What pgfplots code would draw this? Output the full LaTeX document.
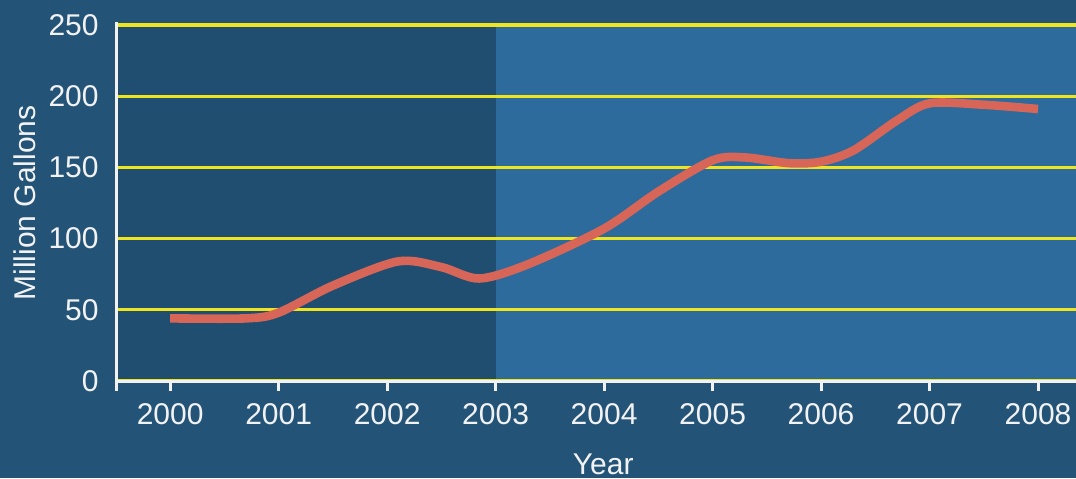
\documentclass[border=0pt]{standalone}
\usepackage{fontspec}
\setmainfont{Liberation Sans}
\usepackage{pgfplots}
\pgfplotsset{compat=1.18}
\definecolor{bgout}{RGB}{35,84,120}
\definecolor{bgleft}{RGB}{32,78,112}
\definecolor{bgright}{RGB}{44,107,155}
\definecolor{gridyel}{RGB}{238,228,32}
\definecolor{linecol}{RGB}{216,102,88}
\definecolor{txt}{RGB}{242,242,242}
\begin{document}
\begin{tikzpicture}
\fill[bgout] (-58.5pt,-48.5pt) rectangle (479.5pt,190.5pt);
% background regions
\begin{axis}[scale only axis, width=479.5pt, height=178pt,
  xmin=1999.51, xmax=2008.35, ymin=0, ymax=250, hide axis, clip=false]
  \fill[bgleft] (axis cs:1999.51,0) rectangle (axis cs:2003,250);
  \fill[bgright] (axis cs:2003,0) rectangle (axis cs:2008.35,250);
\end{axis}
\begin{axis}[scale only axis, width=479.5pt, height=178pt,
  xmin=1999.51, xmax=2008.35, ymin=0, ymax=250,
  axis x line=bottom, axis y line=left,
  axis line style={txt, line width=1.5pt, -},
  y axis line style={shorten <=-5pt, shorten >=-1.5pt},
  xtick={2000,2001,2002,2003,2004,2005,2006,2007,2008},
  ytick={0,50,100,150,200,250},
  /pgf/number format/1000 sep={},
  /pgf/number format/assume math mode=true,
  tick align=outside,
  major tick length=5pt,
  x tick style={txt, line width=1.5pt},
  y tick style={draw=none},
  ymajorgrids,
  grid style={gridyel, line width=1.6pt},
  tick label style={text=txt, font=\fontsize{15}{18}\selectfont},
  yticklabel style={anchor=east, inner sep=0pt, xshift=-4pt},
  xticklabel style={anchor=north, inner sep=0pt, yshift=-6pt},
  xlabel={Year}, ylabel={Million Gallons},
  label style={text=txt, font=\fontsize{15}{18}\selectfont},
  xlabel style={at={(axis description cs:0.507,0)}, anchor=north, inner sep=0pt, yshift=-36pt},
  ylabel style={at={(axis description cs:-0.096,0.5)}, anchor=center, inner sep=0pt},
  clip=false,
]
\addplot[linecol, line width=4.3pt, smooth, tension=0.5] coordinates {
(2000,44) (2000.7,44) (2001,48) (2001.5,67) (2002.1,84) (2002.5,80)
(2002.85,72) (2003.3,82) (2004,107) (2004.5,133) (2005,155) (2005.3,157)
(2005.7,153) (2006,154) (2006.3,162) (2006.7,183) (2007,195) (2007.5,194) (2008,191)
};
\end{axis}
\pgfresetboundingbox
\useasboundingbox (-58.5pt,-48.5pt) rectangle (479.5pt,190.5pt);
\end{tikzpicture}
\end{document}
